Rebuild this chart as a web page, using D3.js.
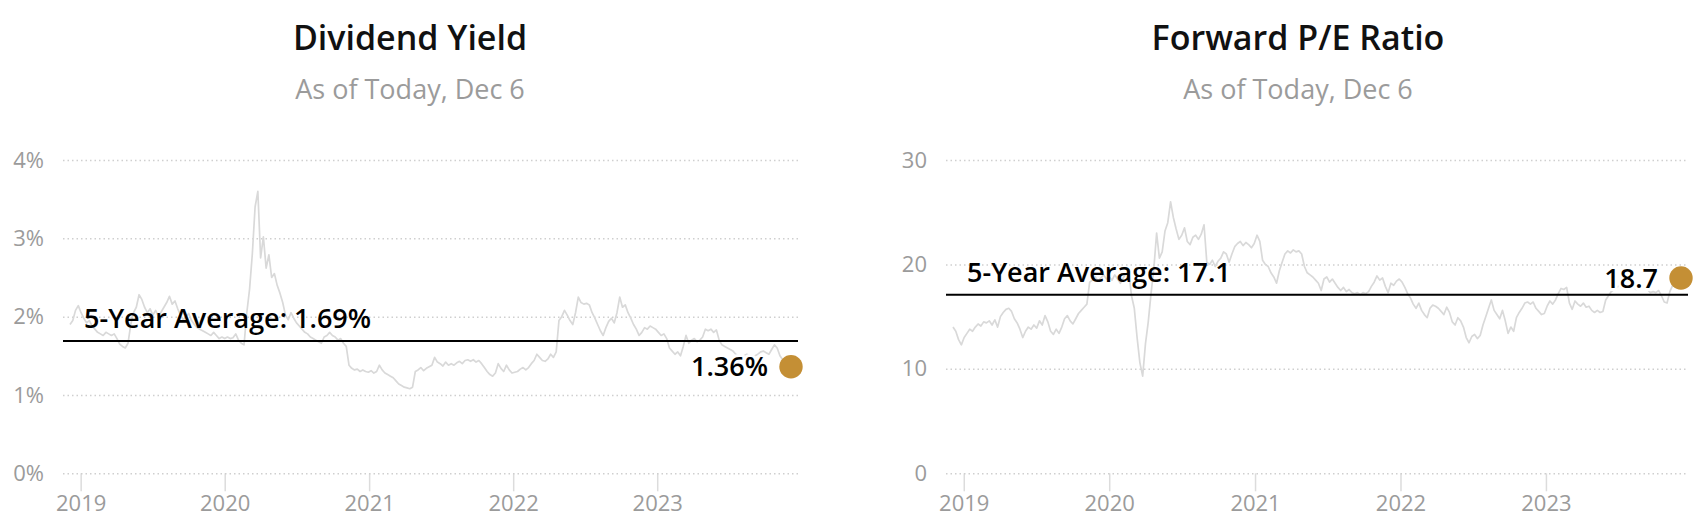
<!DOCTYPE html>
<html>
<head>
<meta charset="utf-8">
<script src="https://cdn.jsdelivr.net/npm/d3@7"></script>
<style>
  html, body { margin: 0; padding: 0; background: #fff; }
  svg { display: block; font-family: "Open Sans", "Noto Sans", sans-serif; }
</style>
</head>
<body>
<svg id="chart" width="1704" height="526"></svg>
<script>
// ---------------- DATA ----------------
const lastDate = "2023-12-06";           // weekly samples ending on this date
const yearTicks = ["2019", "2020", "2021", "2022", "2023"];

const dyTicks = [0, 1, 2, 3, 4];
const dyAverage = 1.69;
const dyCurrentLabel = "1.36%";
const dyValues = [
  1.90,1.95,2.08,2.14,2.05,1.98,1.92,1.95,1.88,1.84,1.80,1.78,1.76,1.80,1.78,1.76,1.78,1.72,1.65,1.62,
  1.60,1.66,1.90,2.05,2.12,2.28,2.22,2.12,2.05,2.10,2.02,2.08,2.00,2.06,2.12,2.18,2.26,2.16,2.20,2.10,
  2.02,1.96,2.00,2.04,1.95,1.90,1.86,1.84,1.82,1.80,1.78,1.76,1.80,1.76,1.72,1.74,1.72,1.74,1.72,1.73,
  1.78,1.70,1.66,1.64,2.05,2.35,2.80,3.40,3.60,2.75,3.02,2.62,2.79,2.50,2.55,2.40,2.30,2.18,2.02,1.96,
  2.05,1.98,1.92,1.88,1.84,1.80,1.78,1.74,1.72,1.70,1.68,1.66,1.74,1.76,1.80,1.76,1.74,1.70,1.72,1.66,
  1.62,1.38,1.34,1.32,1.33,1.30,1.32,1.30,1.29,1.31,1.28,1.30,1.38,1.32,1.28,1.26,1.24,1.22,1.18,1.14,
  1.12,1.10,1.09,1.08,1.10,1.30,1.32,1.35,1.31,1.34,1.36,1.38,1.48,1.42,1.40,1.37,1.42,1.38,1.40,1.38,
  1.41,1.43,1.40,1.44,1.45,1.43,1.45,1.42,1.44,1.40,1.35,1.30,1.26,1.24,1.28,1.40,1.34,1.30,1.38,1.32,
  1.28,1.29,1.30,1.33,1.35,1.32,1.35,1.40,1.44,1.52,1.48,1.44,1.43,1.46,1.52,1.48,1.55,1.95,2.00,2.08,
  2.02,1.95,1.90,2.05,2.25,2.18,2.16,2.17,2.15,2.05,1.98,1.90,1.82,1.76,1.86,1.94,1.98,1.92,2.05,2.25,
  2.12,2.15,2.05,1.98,1.90,1.84,1.76,1.80,1.86,1.84,1.88,1.86,1.84,1.80,1.76,1.78,1.72,1.60,1.56,1.52,
  1.55,1.50,1.62,1.76,1.66,1.70,1.72,1.68,1.70,1.74,1.84,1.82,1.84,1.80,1.83,1.70,1.64,1.62,1.60,1.58,
  1.56,1.52,1.50,1.48,1.50,1.52,1.50,1.48,1.50,1.52,1.55,1.56,1.54,1.52,1.58,1.64,1.60,1.50,1.45,1.42,
  1.40,1.36
];

const peTicks = [0, 10, 20, 30];
const peAverage = 17.1;
const peCurrentLabel = "18.7";
const peValues = [
  14.0,13.6,12.8,12.3,13.0,13.4,13.8,13.6,14.0,14.3,14.1,14.5,14.4,14.6,14.2,14.7,14.0,15.0,15.4,15.7,
  15.8,15.5,14.8,14.4,13.8,13.0,13.6,14.0,13.8,14.2,13.9,14.6,14.2,15.1,14.5,13.6,13.3,13.8,13.4,14.0,
  14.8,15.1,14.6,14.3,14.8,15.3,15.6,15.9,16.2,18.3,18.5,18.8,18.4,18.7,19.0,18.6,18.8,18.5,19.0,18.6,
  18.2,18.7,19.1,19.3,17.0,15.8,13.0,10.6,9.3,12.4,14.5,17.2,19.6,23.0,20.6,21.2,23.2,24.0,26.0,24.5,
  23.4,22.4,22.8,23.5,22.2,21.9,22.6,22.8,22.4,22.9,23.8,20.2,20.0,20.4,19.8,20.3,20.6,21.2,21.0,20.2,
  21.0,21.7,22.0,22.2,21.8,22.1,21.9,21.6,22.0,22.8,22.2,20.4,20.0,19.8,19.2,18.8,18.2,19.4,20.2,21.0,
  21.3,21.1,21.4,21.2,21.3,21.0,19.8,19.2,19.0,18.8,18.5,18.2,17.5,18.6,18.8,18.3,18.6,18.2,17.8,17.5,
  17.8,17.4,17.6,17.3,17.2,17.3,17.1,17.3,17.2,17.4,17.9,18.3,18.9,18.5,18.7,17.9,17.3,18.2,18.0,18.4,
  18.6,18.3,17.8,17.2,16.8,16.2,15.8,16.3,15.6,15.2,14.9,15.8,16.1,16.0,15.8,15.5,15.2,15.9,15.4,14.5,
  14.2,14.9,14.6,14.0,13.0,12.5,13.1,13.3,12.9,13.2,14.2,15.0,15.8,16.6,15.6,15.2,14.8,15.6,14.6,13.4,
  14.0,13.6,14.9,15.4,15.8,16.3,16.4,16.2,16.4,15.8,15.5,15.2,15.3,16.0,16.5,16.2,16.6,17.2,17.7,17.6,
  17.8,16.3,15.7,16.5,16.2,16.0,16.3,15.9,16.0,15.6,15.4,15.6,15.4,15.5,16.6,17.0,17.4,17.6,17.8,18.0,
  18.2,18.4,18.3,18.0,17.8,17.6,17.7,17.9,17.8,17.6,17.3,17.4,17.3,17.5,17.0,16.4,16.3,17.4,18.0,18.3,
  18.4,18.7
];

// ---------------- DRAW ----------------
const svg = d3.select("#chart");
const parse = d3.timeParse("%Y-%m-%d");
const end = parse(lastDate);

function makeSeries(vals) {
  const n = vals.length;
  return vals.map((v, i) => ({ date: d3.timeDay.offset(end, -7 * (n - 1 - i)), value: v }));
}

const GOLD = "#c48f35";
const TICK_GRAY = "#9b9b9b";

function panel(cfg) {
  const data = makeSeries(cfg.values);
  const g = svg.append("g");
  const top = 160, bottom = 473.3, inset = 7;

  // titles
  g.append("text").attr("x", cfg.titleX).attr("y", 50)
    .attr("text-anchor", "middle").attr("font-size", 34).attr("font-weight", 600)
    .attr("fill", "#111").text(cfg.title);
  g.append("text").attr("x", cfg.titleX).attr("y", 99)
    .attr("text-anchor", "middle").attr("font-size", 27).attr("fill", TICK_GRAY)
    .text("As of Today, Dec 6");

  const x = d3.scaleTime()
    .domain([data[0].date, data[data.length - 1].date])
    .range([cfg.x0 + inset, cfg.x1 - inset]);
  const y = d3.scaleLinear().domain(cfg.domain).range([bottom, top]);

  // x axis (tick marks + labels)
  const xAxis = d3.axisBottom(x)
    .tickValues(yearTicks.map(d => d3.timeParse("%Y")(d)))
    .tickFormat(d3.timeFormat("%Y"))
    .tickSize(18).tickPadding(4);
  const xg = g.append("g").attr("transform", `translate(0,${bottom})`).call(xAxis);
  xg.select(".domain").remove();
  xg.selectAll(".tick line").attr("stroke", "#dcdcdc").attr("stroke-width", 1.5);
  xg.selectAll(".tick text").attr("fill", TICK_GRAY).attr("font-size", 22)
    .attr("font-family", "Open Sans");

  // y axis with dotted gridlines
  const yAxis = d3.axisLeft(y).tickValues(cfg.ticks).tickFormat(cfg.fmt)
    .tickSize(-(cfg.x1 - cfg.x0)).tickPadding(19);
  const yg = g.append("g").attr("transform", `translate(${cfg.x0},0)`).call(yAxis);
  yg.select(".domain").remove();
  yg.selectAll(".tick line").attr("stroke", "#cfcfcf").attr("stroke-width", 1.5)
    .attr("stroke-dasharray", "1.5,3");
  yg.selectAll(".tick text").attr("fill", TICK_GRAY).attr("font-size", 22)
    .attr("font-family", "Open Sans");

  // series line
  const line = d3.line().x(d => x(d.date)).y(d => y(d.value));
  g.append("path").datum(data).attr("d", line)
    .attr("fill", "none").attr("stroke", "#d9d9d9").attr("stroke-width", 1.7)
    .attr("stroke-linejoin", "round");

  // average line + label
  g.append("line").attr("x1", cfg.x0).attr("x2", cfg.x1)
    .attr("y1", y(cfg.avg)).attr("y2", y(cfg.avg))
    .attr("stroke", "#000").attr("stroke-width", 2);
  g.append("text").attr("x", cfg.x0 + 21).attr("y", y(cfg.avg) - 12.5)
    .attr("font-size", 27).attr("font-weight", 600).attr("fill", "#000")
    .text(cfg.avgLabel);

  // current value dot + label
  const last = data[data.length - 1];
  g.append("text").attr("x", x(last.date) - 23).attr("y", y(last.value))
    .attr("dy", "0.36em").attr("text-anchor", "end")
    .attr("font-size", 27).attr("font-weight", 600).attr("fill", "#000")
    .attr("stroke", "#fff").attr("stroke-width", 6).attr("paint-order", "stroke")
    .attr("stroke-linejoin", "round")
    .text(cfg.curLabel);
  g.append("circle").attr("cx", x(last.date)).attr("cy", y(last.value))
    .attr("r", 11.7).attr("fill", GOLD);
}

panel({
  title: "Dividend Yield", titleX: 410, x0: 63, x1: 798,
  values: dyValues, domain: [0, 4], ticks: dyTicks, fmt: d => d + "%",
  avg: dyAverage, avgLabel: "5-Year Average: " + dyAverage.toFixed(2) + "%",
  curLabel: dyCurrentLabel
});
panel({
  title: "Forward P/E Ratio", titleX: 1298, x0: 946, x1: 1688,
  values: peValues, domain: [0, 30], ticks: peTicks, fmt: d => d,
  avg: peAverage, avgLabel: "5-Year Average: " + peAverage.toFixed(1),
  curLabel: peCurrentLabel
});
</script>
</body>
</html>
